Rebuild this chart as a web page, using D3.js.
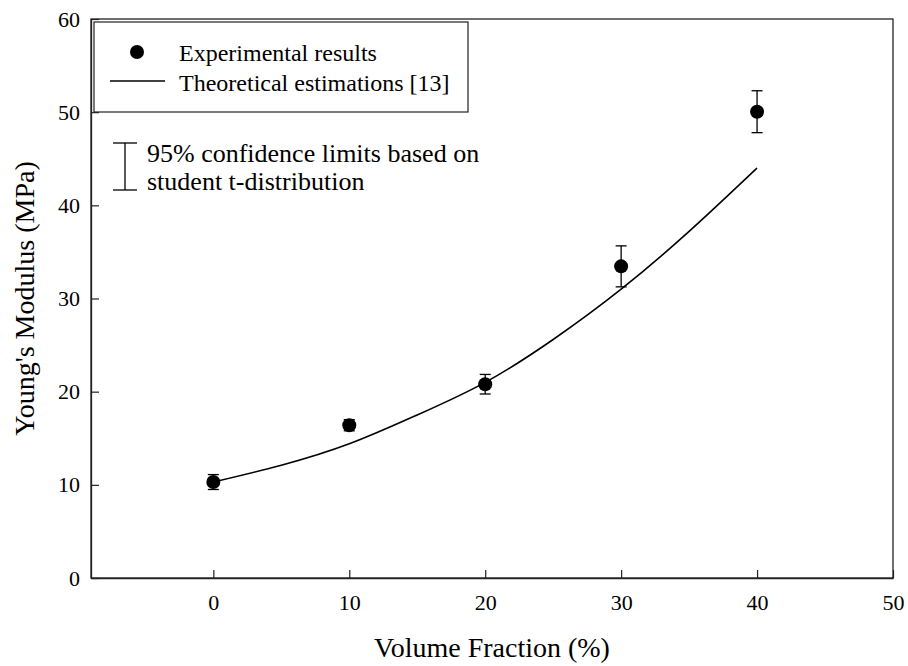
<!DOCTYPE html>
<html>
<head>
<meta charset="utf-8">
<script src="https://cdn.jsdelivr.net/npm/d3@7"></script>
<style>
  html, body { margin: 0; padding: 0; background: #fff; }
  svg { display: block; }
  text { font-family: "Liberation Serif", "Times New Roman", serif; }
</style>
</head>
<body>
<svg id="chart" width="908" height="666" font-family="Liberation Serif, Times New Roman, serif"></svg>
<script>
// ---- data ----
const expX = [0, 10, 20, 30, 40];
const expY = [10.3, 16.4, 20.8, 33.45, 50.05];
const expErr = [0.8, 0.6, 1.05, 2.2, 2.25];

const theoX = [0, 5, 10, 15, 20, 25, 30, 35, 40];
const theoY = [10.3, 12.1, 14.4, 17.5, 21.0, 25.6, 31.0, 37.2, 44.0];

const xTicks = [0, 10, 20, 30, 40, 50];
const yTicks = [0, 10, 20, 30, 40, 50, 60];

const xTitle = "Volume Fraction (%)";
const yTitle = "Young's Modulus (MPa)";
const legendLabels = ["Experimental results", "Theoretical estimations [13]"];
const noteLines = ["95% confidence limits based on", "student t-distribution"];

// ---- layout ----
const FONT = "Liberation Serif, Times New Roman, serif";
const L = 91, R = 893, T = 19, B = 578;
const svg = d3.select("#chart");

const x = d3.scaleLinear().domain([-9, 50]).range([L, R]);
const y = d3.scaleLinear().domain([0, 60]).range([B, T]);

// frame
svg.append("rect")
  .attr("x", L).attr("y", T).attr("width", R - L).attr("height", B - T)
  .attr("fill", "none").attr("stroke", "#222").attr("stroke-width", 1.3);

// axes
const xAxis = d3.axisBottom(x).tickValues(xTicks).tickFormat(d3.format("d"))
  .tickSizeInner(-8).tickSizeOuter(0).tickPadding(16);
const gx = svg.append("g").attr("transform", `translate(0,${B})`).call(xAxis)
  .attr("font-family", FONT);
gx.select(".domain").attr("stroke", "#222").attr("stroke-width", 1.3);
gx.selectAll(".tick line").attr("stroke", "#222").attr("stroke-width", 1.2);
gx.selectAll(".tick text").attr("font-size", 22).attr("fill", "#000");

const yAxis = d3.axisLeft(y).tickValues(yTicks).tickFormat(d3.format("d"))
  .tickSizeInner(-8).tickSizeOuter(0).tickPadding(11);
const gy = svg.append("g").attr("transform", `translate(${L},0)`).call(yAxis)
  .attr("font-family", FONT);
gy.select(".domain").attr("stroke", "#222").attr("stroke-width", 1.3);
gy.selectAll(".tick line").attr("stroke", "#222").attr("stroke-width", 1.2);
gy.selectAll(".tick text").attr("font-size", 22).attr("fill", "#000");

// titles
svg.append("text").attr("x", (L + R) / 2).attr("y", 657).attr("font-family", FONT)
  .attr("text-anchor", "middle").attr("font-size", 28).text(xTitle);
svg.append("text").attr("transform", `translate(34,${(T + B) / 2}) rotate(-90)`)
  .attr("font-family", FONT)
  .attr("text-anchor", "middle").attr("font-size", 28).text(yTitle);

// theoretical curve
const pts = theoX.map((d, i) => [d, theoY[i]]);
svg.append("path")
  .attr("d", d3.line().x(d => x(d[0])).y(d => y(d[1])).curve(d3.curveNatural)(pts))
  .attr("fill", "none").attr("stroke", "#000").attr("stroke-width", 1.6);

// error bars
const eb = svg.append("g").attr("stroke", "#000").attr("stroke-width", 1.3);
expX.forEach((d, i) => {
  const cx = x(d), y1 = y(expY[i] + expErr[i]), y2 = y(expY[i] - expErr[i]);
  eb.append("line").attr("x1", cx).attr("x2", cx).attr("y1", y1).attr("y2", y2);
  eb.append("line").attr("x1", cx - 5.5).attr("x2", cx + 5.5).attr("y1", y1).attr("y2", y1);
  eb.append("line").attr("x1", cx - 5.5).attr("x2", cx + 5.5).attr("y1", y2).attr("y2", y2);
});

// points
svg.append("g").selectAll("circle").data(expX).join("circle")
  .attr("cx", d => x(d)).attr("cy", (d, i) => y(expY[i])).attr("r", 7)
  .attr("fill", "#000");

// legend box
svg.append("rect").attr("x", 94).attr("y", 22).attr("width", 374).attr("height", 90)
  .attr("fill", "#fff").attr("stroke", "#222").attr("stroke-width", 1.2);
svg.append("circle").attr("cx", 137).attr("cy", 52).attr("r", 7).attr("fill", "#000");
svg.append("line").attr("x1", 110).attr("x2", 165).attr("y1", 81).attr("y2", 81)
  .attr("stroke", "#000").attr("stroke-width", 1.3);
svg.append("text").attr("x", 179).attr("y", 61).attr("font-family", FONT)
  .attr("font-size", 24).text(legendLabels[0]);
svg.append("text").attr("x", 179).attr("y", 91).attr("font-family", FONT)
  .attr("font-size", 24).text(legendLabels[1]);

// confidence note
const nb = svg.append("g").attr("stroke", "#000").attr("stroke-width", 1.3);
nb.append("line").attr("x1", 125).attr("x2", 125).attr("y1", 143).attr("y2", 190);
nb.append("line").attr("x1", 113).attr("x2", 137).attr("y1", 143).attr("y2", 143);
nb.append("line").attr("x1", 113).attr("x2", 137).attr("y1", 190).attr("y2", 190);
svg.append("text").attr("x", 147).attr("y", 162).attr("font-family", FONT)
  .attr("font-size", 26).text(noteLines[0]);
svg.append("text").attr("x", 147).attr("y", 190).attr("font-family", FONT)
  .attr("font-size", 26).text(noteLines[1]);
</script>
</body>
</html>
